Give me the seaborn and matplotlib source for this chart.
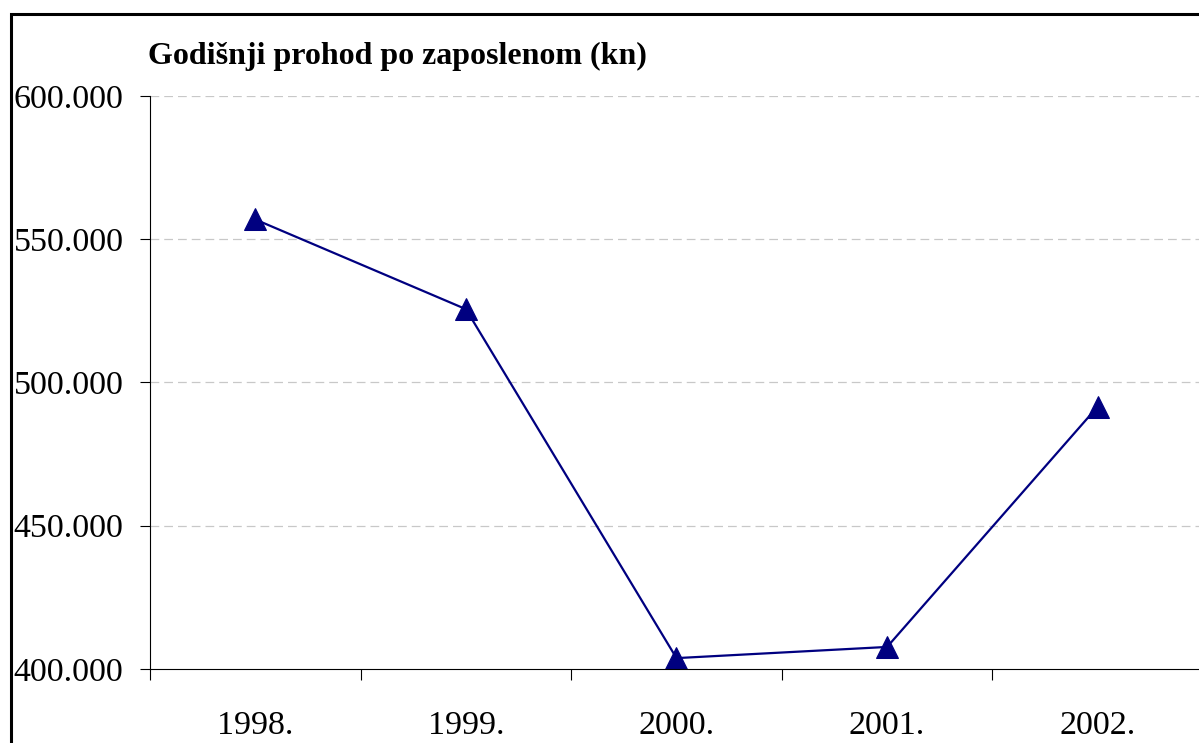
import matplotlib.pyplot as plt
import seaborn as sns
import pandas as pd
from matplotlib.patches import Rectangle
from matplotlib.ticker import FuncFormatter, FixedLocator

# podaci
godine = ["1998.", "1999.", "2000.", "2001.", "2002."]
prihod = [556900, 525600, 403800, 407700, 491600]
naslov = "Godišnji prohod po zaposlenom (kn)"

sns.set_theme(style="white")
plt.rcParams["font.family"] = ["Liberation Serif", "DejaVu Serif"]
plt.rcParams["text.color"] = "#000000"
plt.rcParams["xtick.color"] = "#000000"
plt.rcParams["ytick.color"] = "#000000"

W, H = 1199, 743
fig = plt.figure(figsize=(W / 100, H / 100), dpi=100)
ax = fig.add_axes([150 / W, (H - 669) / H, 1053 / W, 573 / H])

df = pd.DataFrame({"godina": godine, "prihod": prihod})
sns.lineplot(
    data=df, x="godina", y="prihod", ax=ax,
    color="#000080", linewidth=1.6,
    marker="^", markersize=16, markeredgecolor="#000080",
)

ax.set_xlim(-0.5, len(godine) - 0.5)
ax.set_ylim(400000, 600000)
ax.set_yticks(range(400000, 600001, 50000))
ax.yaxis.set_major_formatter(FuncFormatter(lambda v, p: f"{int(v):,}".replace(",", ".")))
ax.xaxis.set_minor_locator(FixedLocator([i - 0.5 for i in range(len(godine) + 1)]))

ax.set_xlabel("")
ax.set_ylabel("")
ax.tick_params(axis="x", which="major", length=0, pad=30, labelsize=24.5, labelcolor="#000000")
ax.tick_params(axis="x", which="minor", length=8, width=0.8, color="#000000", direction="out", bottom=True)
ax.tick_params(axis="y", length=7, width=0.8, color="#000000", pad=12, labelsize=24.5,
               labelcolor="#000000", left=True)

# isprekidane linije mreže (bez 400.000)
for v in range(450000, 600001, 50000):
    ax.axhline(v, color="#c8c8c8", linewidth=0.9, linestyle=(0, (7, 4)), zorder=0)

for s in ["top", "right"]:
    ax.spines[s].set_visible(False)
for s in ["left", "bottom"]:
    ax.spines[s].set_color("#000000")
    ax.spines[s].set_linewidth(0.8)

fig.text(148 / W, 1 - 64 / H, naslov, fontsize=23, fontweight="bold", color="#000000",
         ha="left", va="baseline")

# okvir grafikona
fig.patches.append(Rectangle((11 / W, -0.1), 1.2, 1.1 - 14 / H, transform=fig.transFigure,
                             fill=False, edgecolor="#000000", linewidth=2.2))

plt.savefig("out.png", dpi=100)
